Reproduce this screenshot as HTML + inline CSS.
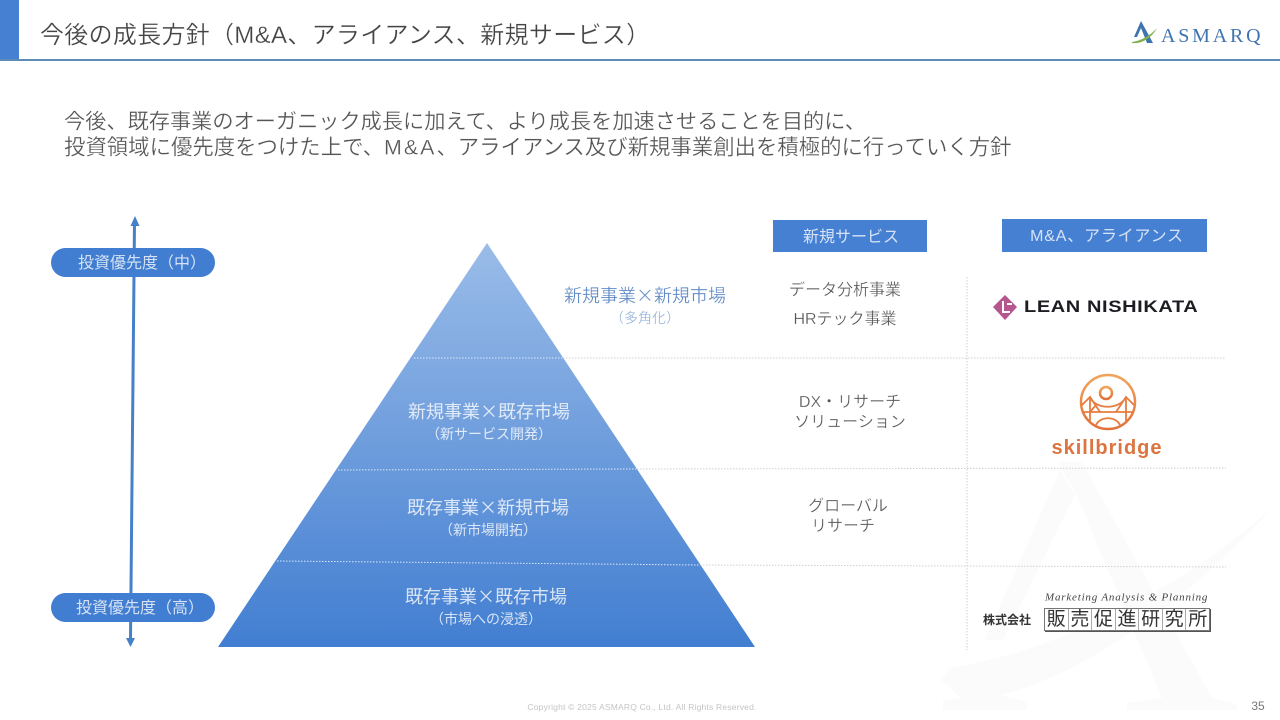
<!DOCTYPE html>
<html lang="ja">
<head>
<meta charset="utf-8">
<style>
html,body{margin:0;padding:0;background:#fff}
#s{position:relative;width:1280px;height:720px;overflow:hidden;background:#fff;font-family:"Liberation Sans","Noto Sans CJK JP",sans-serif;color:#555}
.t{position:absolute;white-space:nowrap;line-height:1;transform:translate(-50%,-50%);text-align:center}
.l{position:absolute;white-space:nowrap;line-height:1;transform:translateY(-50%)}
svg{position:absolute;left:0;top:0}
.p{color:rgba(255,255,255,.78)}
.c{font-family:"Noto Sans CJK JP",sans-serif}
.thin{-webkit-text-stroke:.25px #fff}
.b{position:absolute;background:#4680d3}
.pill{position:absolute;background:#417dd0;border-radius:15px}
</style>
</head>
<body>
<div id="s">
<svg width="1280" height="720" viewBox="0 0 1280 720">
<defs>
<linearGradient id="g" x1="0" y1="0" x2="0" y2="1">
<stop offset="0" stop-color="#9abce8"/>
<stop offset="1" stop-color="#427ed1"/>
</linearGradient>
<linearGradient id="o" x1="0" y1="0" x2="0" y2="1">
<stop offset="0" stop-color="#f0a45a"/>
<stop offset="1" stop-color="#e2703a"/>
</linearGradient>
</defs>
<!-- watermark -->
<g fill="#fbfbfb">
<path d="M1058 462 L1082 462 L1212 698 L1237 704 L1237 710 L1127 710 L1127 703 L1162 698 L1075 492 Z"/>
<path d="M1060 470 L1075 495 L1003 640 L985 640 Z"/>
<path d="M943 701 L985 695 L1000 695 L1027 702 L1027 710 L943 710 Z"/>
<path d="M1273 507 C1180 590 1060 650 950 668 L941 680 L965 702 C1070 690 1190 600 1273 507 Z"/>
</g>
<!-- header -->
<rect x="0" y="0" width="19" height="60" fill="#4680d3"/>
<rect x="0" y="59" width="1280" height="2" fill="#5d8db4"/>
<!-- logo asmarq mark -->
<path d="M1141 21 L1134 37 L1137 37 L1141 28 L1147 43 L1153 43 Z" fill="#3f74ae"/>
<path d="M1132 42 C1140 41 1150 36 1157 28 C1151 39 1141 44 1132 43 Z" fill="#7fb04c"/>
<!-- pyramid -->
<polygon points="487,243 755,647 218,647" fill="url(#g)"/>
<!-- dotted lines -->
<g stroke-dasharray="1.500 1.500" stroke-width="1" fill="none">
<line x1="414" y1="358" x2="563" y2="358" stroke="#dbe7f6"/>
<line x1="563" y1="358" x2="1226" y2="358" stroke="#cfcfcf"/>
<line x1="338" y1="470" x2="637" y2="469" stroke="#dbe7f6"/>
<line x1="637" y1="469" x2="1226" y2="468" stroke="#cfcfcf"/>
<line x1="277" y1="561" x2="700" y2="565" stroke="#dbe7f6"/>
<line x1="700" y1="565" x2="1226" y2="567" stroke="#cfcfcf"/>
<line x1="967" y1="277" x2="967" y2="650" stroke="#cfcfcf"/>
</g>
<!-- arrow -->
<line x1="134.500" y1="222" x2="130.500" y2="640" stroke="#4680c8" stroke-width="3"/>
<polygon points="135,216 139.500,226 130.500,226" fill="#4680c8"/>
<polygon points="130.500,647 126,638 135,638" fill="#4680c8"/>
<!-- lean logo -->
<polygon points="1005,295 1017,307 1005,320 993,307" fill="#b5568f"/>
<path d="M1003 301 L1003 312 L1010 312 M1007 304 L1012 304" stroke="#fff" stroke-width="2" fill="none"/>
<!-- skillbridge icon -->
<g fill="none" stroke="url(#o)">
<circle cx="1108" cy="402" r="27" stroke-width="2.500"/>
<circle cx="1106" cy="393" r="6" stroke-width="2.500"/>
</g>
<path d="M1082 405 L1090 397 C1095 410 1120 410 1126 397 L1134 405 M1090 397 L1090 422 M1126 397 L1126 422 M1082 412 L1134 412 M1090 412 L1096 405 M1090 397 L1100 412 M1126 397 L1116 412 M1096 425 C1100 416 1116 416 1120 425" fill="none" stroke="#e67c3e" stroke-width="1.800"/>
</svg>

<div class="l thin" style="left:40px;top:36px;font-size:24px;letter-spacing:.3px;color:#444">今後の成長方針（M&amp;A、アライアンス、新規サービス）</div>
<div class="l" style="left:1161px;top:36px;font-family:'Liberation Serif','Noto Serif CJK SC',serif;font-size:20px;letter-spacing:2.800px;color:#3f74ae">ASMARQ</div>

<div class="l thin" style="left:64px;top:122px;font-size:21.200px;color:#555">今後、既存事業のオーガニック成長に加えて、より成長を加速させることを目的に、</div>
<div class="l thin" style="left:64px;top:148px;font-size:21.400px;color:#555">投資領域に優先度をつけた上で、<span style="letter-spacing:2px">M&amp;A</span>、アライアンス及び新規事業創出を積極的に行っていく方針</div>

<div class="pill" style="left:51px;top:248px;width:164px;height:29px"></div>
<div class="pill" style="left:51px;top:593px;width:164px;height:29px"></div>
<div class="t p" style="left:142px;top:264px;font-size:16px">投資優先度（中）</div>
<div class="t p" style="left:140px;top:609px;font-size:16px">投資優先度（高）</div>

<div class="t c thin" style="left:645px;top:295px;font-size:18px;color:#5a86c2">新規事業×新規市場</div>
<div class="t c thin" style="left:645px;top:318px;font-size:14px;color:#86aad6">（多角化）</div>
<div class="t c p" style="left:489px;top:411px;font-size:18px">新規事業×既存市場</div>
<div class="t c p" style="left:489px;top:434px;font-size:14px">（新サービス開発）</div>
<div class="t c p" style="left:488px;top:507px;font-size:18px">既存事業×新規市場</div>
<div class="t c p" style="left:488px;top:530px;font-size:14px">（新市場開拓）</div>
<div class="t c p" style="left:486px;top:596px;font-size:18px">既存事業×既存市場</div>
<div class="t c p" style="left:486px;top:619px;font-size:14px">（市場への浸透）</div>

<div class="b" style="left:773px;top:220px;width:154px;height:32px"></div>
<div class="b" style="left:1002px;top:219px;width:205px;height:33px"></div>
<div class="t p" style="left:851px;top:238px;font-size:16px">新規サービス</div>
<div class="t p" style="left:1107px;top:237px;font-size:16px;letter-spacing:.8px">M&amp;A、アライアンス</div>

<div class="t thin" style="left:845px;top:291px;font-size:16px;color:#555">データ分析事業</div>
<div class="t thin" style="left:845px;top:320px;font-size:16px;color:#555">HRテック事業</div>
<div class="t thin" style="left:850px;top:403px;font-size:16px;color:#555">DX・リサーチ</div>
<div class="t thin" style="left:850px;top:423px;font-size:16px;color:#555">ソリューション</div>
<div class="t thin" style="left:848px;top:507px;font-size:16px;color:#555">グローバル</div>
<div class="t thin" style="left:843px;top:527px;font-size:16px;color:#555">リサーチ</div>

<div class="l" style="left:1024px;top:307px;font-size:20px;font-weight:bold;letter-spacing:.6px;color:#1c1c22;transform:translateY(-50%) scaleY(.85);transform-origin:left center">LEAN NISHIKATA</div>
<div class="t" style="left:1107px;top:448px;font-size:20px;font-weight:bold;letter-spacing:1px;color:#dc7440">skillbridge</div>

<div class="l" style="left:1045px;top:598px;font-family:'Liberation Serif',serif;font-style:italic;font-size:11px;letter-spacing:.8px;color:#444">Marketing Analysis &amp; Planning</div>
<div class="l" style="left:983px;top:620px;font-size:12px;font-weight:bold;color:#333">株式会社</div>
<div style="position:absolute;left:1044px;top:608px;width:164px;height:21px;background:#fff;border:1px solid #777;box-shadow:1px 1px 0 #555;display:flex;font-size:19px;line-height:21px;color:#333">
<span style="flex:1;text-align:center;border-right:1px solid #aaa">販</span><span style="flex:1;text-align:center;border-right:1px solid #aaa">売</span><span style="flex:1;text-align:center;border-right:1px solid #aaa">促</span><span style="flex:1;text-align:center;border-right:1px solid #aaa">進</span><span style="flex:1;text-align:center;border-right:1px solid #aaa">研</span><span style="flex:1;text-align:center;border-right:1px solid #aaa">究</span><span style="flex:1;text-align:center">所</span>
</div>

<div class="t" style="left:642px;top:707px;font-size:8.500px;color:#c4c4c4;letter-spacing:.2px">Copyright © 2025 ASMARQ Co., Ltd. All Rights Reserved.</div>
<div class="t" style="left:1258px;top:706px;font-size:12px;color:#777">35</div>
</div>
</body>
</html>
